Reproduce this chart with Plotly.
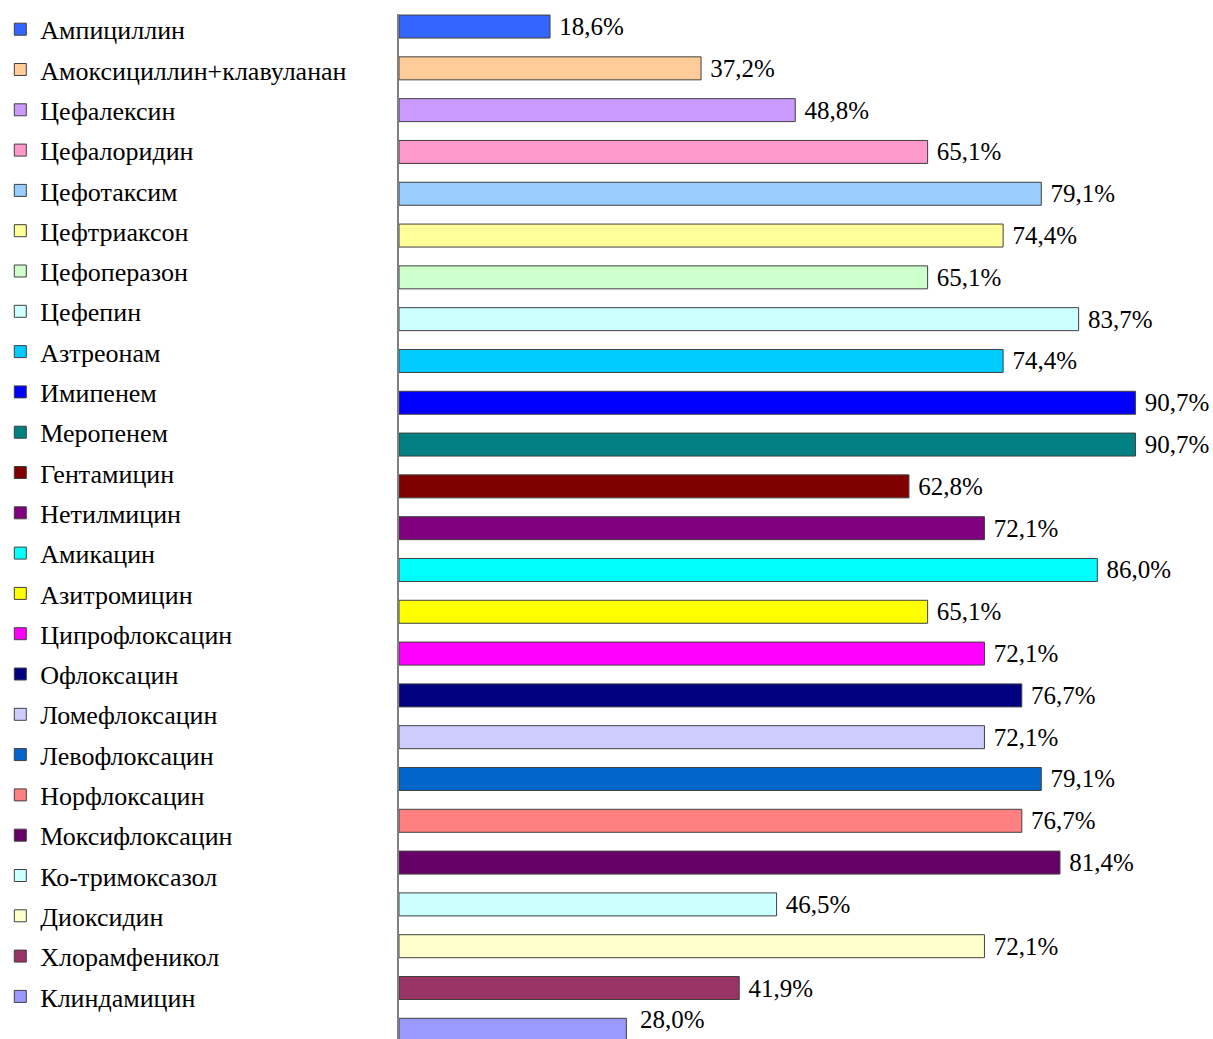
import plotly.graph_objects as go

categories = ["Ампициллин", "Амоксициллин+клавуланан", "Цефалексин", "Цефалоридин",
              "Цефотаксим", "Цефтриаксон", "Цефоперазон", "Цефепин", "Азтреонам",
              "Имипенем", "Меропенем", "Гентамицин", "Нетилмицин", "Амикацин",
              "Азитромицин", "Ципрофлоксацин", "Офлоксацин", "Ломефлоксацин",
              "Левофлоксацин", "Норфлоксацин", "Моксифлоксацин", "Ко-тримоксазол",
              "Диоксидин", "Хлорамфеникол", "Клиндамицин"]
values = [18.6, 37.2, 48.8, 65.1, 79.1, 74.4, 65.1, 83.7, 74.4, 90.7, 90.7, 62.8,
          72.1, 86.0, 65.1, 72.1, 76.7, 72.1, 79.1, 76.7, 81.4, 46.5, 72.1, 41.9, 28.0]
colors = ["#3366FF", "#FFCC99", "#CC99FF", "#FF99CC", "#99CCFF", "#FFFF99", "#CCFFCC",
          "#CCFFFF", "#00CCFF", "#0000FF", "#008080", "#800000", "#800080", "#00FFFF",
          "#FFFF00", "#FF00FF", "#000080", "#CCCCFF", "#0066CC", "#FF8080", "#660066",
          "#CCFFFF", "#FFFFCC", "#993366", "#9999FF"]

SERIF = "Liberation Serif, Times New Roman, serif"


def fmt(v):
    return f"{v:.1f}".replace(".", ",") + "%"


fig = go.Figure()
n = len(categories)
for i, (cat, val, col) in enumerate(zip(categories, values, colors)):
    last = i == n - 1
    fig.add_trace(go.Bar(
        y=[cat], x=[val], orientation="h", name=cat, legendgroup=cat,
        marker=dict(color=col, line=dict(color="#404040", width=1)),
        width=0.55,
        text=None if last else [" " + fmt(val)], textposition="outside",
        textfont=dict(family=SERIF, size=25, color="black"),
        constraintext="none", cliponaxis=False,
    ))
    if last:
        fig.add_annotation(
            x=val, y=cat, xref="x", yref="y", text=fmt(val), showarrow=False,
            xanchor="left", yanchor="middle", xshift=12, yshift=10,
            font=dict(family=SERIF, size=25, color="black"),
        )

fig.update_layout(
    width=1213, height=1039,
    margin=dict(l=399, r=2, t=14, b=0, autoexpand=False),
    paper_bgcolor="white", plot_bgcolor="white",
    barmode="overlay",
    showlegend=True,
    legend=dict(
        x=-0.491, xanchor="left", y=1.008, yanchor="top",
        traceorder="grouped", tracegroupgap=3.5,
        font=dict(family=SERIF, size=26, color="black"),
        bgcolor="rgba(0,0,0,0)", maxheight=1039,
    ),
    xaxis=dict(range=[0, 100], visible=False),
    yaxis=dict(
        categoryorder="array", categoryarray=categories,
        range=[n - 1 + 0.22, -0.3],
        showticklabels=False, showgrid=False, zeroline=False,
        showline=True, linecolor="#808080", linewidth=1.5,
    ),
)

fig.write_html("out.html", config={"displayModeBar": False},
               post_script="document.body.style.margin='0px';")
